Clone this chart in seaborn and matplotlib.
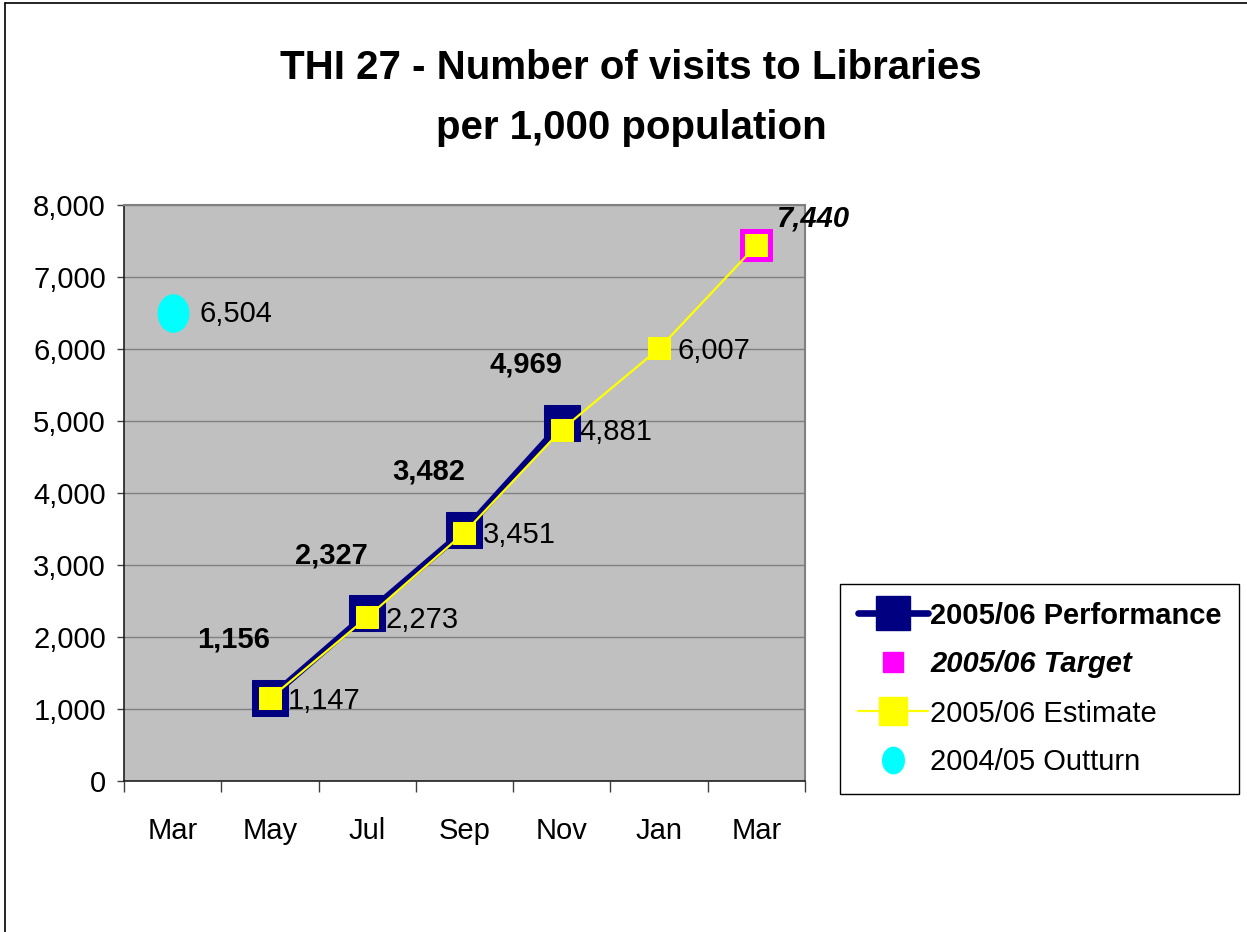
import numpy as np
import pandas as pd
import matplotlib
matplotlib.use("Agg")
import matplotlib.pyplot as plt
from matplotlib.lines import Line2D
from matplotlib.path import Path
from matplotlib.transforms import Affine2D
import seaborn as sns

# ---- data ----
months = ["Mar", "May", "Jul", "Sep", "Nov", "Jan", "Mar"]
perf_months = [1, 2, 3, 4]
perf_values = [1156, 2327, 3482, 4969]
est_months = [1, 2, 3, 4, 5, 6]
est_values = [1147, 2273, 3451, 4881, 6007, 7440]
target_month = [6]
target_value = [7440]
outturn_month = [0]
outturn_value = [6504]

NAVY = "#000080"
YELLOW = "#FFFF00"
MAGENTA = "#FF00FF"
CYAN = "#00FFFF"

sns.set_style("white")
plt.rcParams["font.family"] = ["Liberation Sans", "DejaVu Sans"]
plt.rcParams["text.color"] = "black"
plt.rcParams["xtick.color"] = "black"
plt.rcParams["ytick.color"] = "black"
plt.rcParams["axes.labelcolor"] = "black"

W, H = 1247, 932
fig = plt.figure(figsize=(W / 100, H / 100), dpi=100)
fig.patch.set_facecolor("white")

ax = fig.add_axes([124 / W, 1 - 781 / H, 681 / W, 576 / H])
ax.set_facecolor("#C0C0C0")

perf_df = pd.DataFrame({"x": perf_months, "y": perf_values})
est_df = pd.DataFrame({"x": est_months, "y": est_values})
tgt_df = pd.DataFrame({"x": target_month, "y": target_value})
out_df = pd.DataFrame({"x": outturn_month, "y": outturn_value})

ellipse = Path.unit_circle().transformed(Affine2D().scale(0.82, 1.0))

sns.lineplot(data=perf_df, x="x", y="y", ax=ax, color=NAVY, linewidth=4.8,
             marker="s", markersize=26, markeredgecolor=NAVY,
             markerfacecolor=NAVY, zorder=3)
sns.lineplot(data=tgt_df, x="x", y="y", ax=ax, color=MAGENTA, linewidth=0,
             marker="s", markersize=23, markeredgecolor=MAGENTA,
             markerfacecolor=MAGENTA, zorder=4)
sns.lineplot(data=est_df, x="x", y="y", ax=ax, color=YELLOW, linewidth=1.6,
             marker="s", markersize=16, markeredgecolor=YELLOW,
             markerfacecolor=YELLOW, zorder=5)
sns.lineplot(data=out_df, x="x", y="y", ax=ax, color=CYAN, linewidth=0,
             marker=ellipse, markersize=27, markeredgecolor=CYAN,
             markerfacecolor=CYAN, zorder=5)

# ---- data labels ----
lab_fs = 21
for x, v in zip(perf_months, perf_values):
    ax.annotate(f"{v:,}", (x, v), xytext=(-26, 42), textcoords="offset points",
                ha="center", va="center", fontsize=lab_fs, fontweight="bold",
                zorder=6)
for x, v in zip(est_months[:-1], est_values[:-1]):
    ax.annotate(f"{v:,}", (x, v), xytext=(13, -2), textcoords="offset points",
                ha="left", va="center", fontsize=lab_fs, zorder=6)
for x, v in zip(target_month, target_value):
    ax.annotate(f"{v:,}", (x, v), xytext=(15, 19), textcoords="offset points",
                ha="left", va="center", fontsize=lab_fs, fontweight="bold",
                fontstyle="italic", zorder=6, annotation_clip=False)
for x, v in zip(outturn_month, outturn_value):
    ax.annotate(f"{v:,}", (x, v), xytext=(19, -1), textcoords="offset points",
                ha="left", va="center", fontsize=lab_fs, zorder=6)

# ---- axes ----
ax.set_xlim(-0.5, 6.5)
ax.set_ylim(0, 8000)
ax.set_xlabel("")
ax.set_ylabel("")

ax.set_xticks(np.arange(-0.5, 7, 1.0))
ax.set_xticklabels([])
ax.set_xticks(np.arange(len(months)), minor=True)
ax.set_xticklabels(months, minor=True, fontsize=21)
ax.tick_params(axis="x", which="major", direction="out", length=8, width=1,
               color="#404040", bottom=True)
ax.tick_params(axis="x", which="minor", length=0, pad=26, bottom=True)

yticks = np.arange(0, 8001, 1000)
ax.set_yticks(yticks)
ax.set_yticklabels([f"{int(t):,}" for t in yticks], fontsize=21)
ax.tick_params(axis="y", direction="out", length=5, width=1, color="#404040",
               pad=8, left=True)

ax.yaxis.grid(True, color="#808080", linewidth=1)
ax.xaxis.grid(False)
ax.set_axisbelow(True)

for side in ("top", "right"):
    ax.spines[side].set_visible(True)
    ax.spines[side].set_color("#808080")
    ax.spines[side].set_linewidth(1.5)
for side in ("left", "bottom"):
    ax.spines[side].set_visible(True)
    ax.spines[side].set_color("#202020")
    ax.spines[side].set_linewidth(1.2)

# ---- title ----
fig.text(631 / W, 1 - 68 / H, "THI 27 - Number of visits to Libraries",
         ha="center", va="center", fontsize=29, fontweight="bold")
fig.text(631 / W, 1 - 128 / H, "per 1,000 population",
         ha="center", va="center", fontsize=29, fontweight="bold")

# ---- legend ----
handles = [
    Line2D([], [], color=NAVY, linewidth=4.8, marker="s", markersize=24,
           markerfacecolor=NAVY, markeredgecolor=NAVY),
    Line2D([], [], linestyle="none", marker="s", markersize=15,
           markerfacecolor=MAGENTA, markeredgecolor=MAGENTA),
    Line2D([], [], color=YELLOW, linewidth=1.6, marker="s", markersize=20,
           markerfacecolor=YELLOW, markeredgecolor=YELLOW),
    Line2D([], [], linestyle="none", marker=ellipse, markersize=19,
           markerfacecolor=CYAN, markeredgecolor=CYAN),
]
labels = ["2005/06 Performance", "2005/06 Target", "2005/06 Estimate",
          "2004/05 Outturn"]
leg = fig.legend(handles, labels, loc="lower left",
                 bbox_to_anchor=(840 / W, 1 - 794 / H),
                 bbox_transform=fig.transFigure, borderaxespad=0,
                 fontsize=21, frameon=True, fancybox=False, framealpha=1,
                 edgecolor="black", handlelength=2.4, handletextpad=0.1,
                 labelspacing=0.72, borderpad=0.6)
leg.get_frame().set_linewidth(1.0)
txts = leg.get_texts()
txts[0].set_fontweight("bold")
txts[1].set_fontweight("bold")
txts[1].set_fontstyle("italic")

# ---- outer chart border ----
fig.add_artist(Line2D([5 / W, 5 / W], [0, 1 - 3 / H], color="black",
                      linewidth=1.2, transform=fig.transFigure))
fig.add_artist(Line2D([5 / W, 1], [1 - 3 / H, 1 - 3 / H], color="black",
                      linewidth=1.2, transform=fig.transFigure))

fig.savefig("out.png", dpi=100)
